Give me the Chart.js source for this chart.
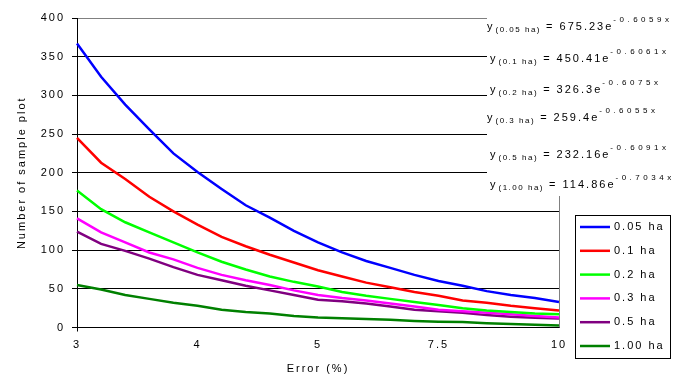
<!DOCTYPE html>
<html>
<head>
<meta charset="utf-8">
<title>Number of sample plot vs error</title>
<script src="https://cdn.jsdelivr.net/npm/chart.js@4.4.1/dist/chart.umd.min.js"></script>
<style>
  html, body { margin: 0; padding: 0; background: #fff; }
</style>
</head>
<body>
<canvas id="sampleChart" width="676" height="377"></canvas>
<script>
// Error (%) categories, ticks only shown on a few of them
const errorLabels = ["3", "3.2", "3.4", "3.6", "3.8", "4", "4.2", "4.4", "4.6", "4.8",
                     "5", "5.5", "6", "6.5", "7", "7.5", "8", "8.5", "9", "9.5", "10"];
const shownTicks = ["3", "4", "5", "7.5", "10"];

// Number of sample plots
const plot005 = [367, 324, 288, 256, 225, 201, 179, 158, 142, 125, 110, 97, 86, 77, 68, 60, 54, 47, 42, 38, 33];
const plot01  = [245, 213, 192, 169, 150, 133, 117, 105, 94, 84, 74, 66, 58, 52, 46, 41, 35, 32, 28, 25, 22];
const plot02  = [177, 153, 136, 123, 110, 97, 85, 75, 66, 59, 53, 46, 41, 37, 33, 29, 25, 22, 20, 18, 17];
const plot03  = [141, 123, 110, 97, 88, 77, 68, 61, 55, 48, 42, 38, 35, 31, 27, 23, 21, 19, 17, 15, 13];
const plot05  = [124, 108, 99, 89, 78, 68, 61, 54, 48, 42, 36, 34, 31, 27, 23, 21, 19, 16, 14, 12.5, 11.5];
const plot100 = [55, 49, 42, 37, 32, 28, 23, 20, 18, 15, 13, 12, 11, 10, 8.5, 7.5, 7, 5.5, 4.5, 3.5, 2.5];

const seriesNames = ["0.05 ha", "0.1 ha", "0.2 ha", "0.3 ha", "0.5 ha", "1.00 ha"];
const seriesColors = ["#0000ff", "#ff0000", "#00ff00", "#ff00ff", "#800080", "#008000"];
const seriesData = [plot005, plot01, plot02, plot03, plot05, plot100];

// Trendline equations: subscript, main part, exponent
const eqSubs = ["(0.05 ha)", "(0.1 ha)", "(0.2 ha)", "(0.3 ha)", "(0.5 ha)", "(1.00 ha)"];
const eqMains = [" = 675.23e", " = 450.41e", " = 326.3e", " = 259.4e", " = 232.16e", " = 114.86e"];
const eqSups = ["-0.6059x", "-0.6061x", "-0.6075x", "-0.6055x", "-0.6091x", "-0.7034x"];

const FONT = '"Liberation Sans", Arial, sans-serif';
Chart.defaults.font.family = FONT;
Chart.defaults.font.size = 11;
Chart.defaults.color = "#000";

// Old Excel look: spaced out letters
const spacingPlugin = {
  id: "spacing",
  beforeUpdate(chart) { chart.ctx.letterSpacing = "2px"; },
  beforeRender(chart) { chart.ctx.letterSpacing = "2px"; },
  beforeDraw(chart) { chart.ctx.letterSpacing = "2px"; }
};

function drawEquation(ctx, x, y, i) {
  ctx.fillStyle = "#000";
  ctx.textAlign = "left";
  ctx.textBaseline = "middle";

  ctx.font = "11px " + FONT;
  ctx.letterSpacing = "2px";
  ctx.fillText("y", x, y);
  x += ctx.measureText("y").width + 1;

  ctx.font = "8px " + FONT;
  ctx.letterSpacing = "1.5px";
  ctx.fillText(eqSubs[i], x, y + 3);
  x += ctx.measureText(eqSubs[i]).width;

  ctx.font = "11px " + FONT;
  ctx.letterSpacing = "2px";
  ctx.fillText(eqMains[i], x, y);
  x += ctx.measureText(eqMains[i]).width;

  ctx.font = "8px " + FONT;
  ctx.letterSpacing = "3.5px";
  ctx.fillText(eqSups[i], x, y - 7);
}

const extrasPlugin = {
  id: "extras",
  afterDatasetsDraw(chart) {
    const ctx = chart.ctx;
    const area = chart.chartArea;
    ctx.save();

    // plot area right border
    ctx.strokeStyle = "#808080";
    ctx.lineWidth = 1;
    ctx.beginPath();
    ctx.moveTo(Math.round(area.right) + 0.5, area.top);
    ctx.lineTo(Math.round(area.right) + 0.5, area.bottom);
    ctx.stroke();

    // equation boxes cover the grid on the right
    ctx.fillStyle = "#fff";
    ctx.fillRect(487, 12, 189, 184);
    const eqY = [27, 59, 90, 118, 155, 185];
    const eqX = [487, 490, 490, 487, 490, 490];
    eqY.forEach((y, i) => drawEquation(ctx, eqX[i], y, i));

    // legend box
    ctx.strokeStyle = "#000";
    ctx.lineWidth = 1;
    ctx.strokeRect(575.5, 215.5, 95, 143);
    chart.data.datasets.forEach((ds, i) => {
      const y = 227 + i * 23.8;
      ctx.strokeStyle = ds.borderColor;
      ctx.lineWidth = 2.5;
      ctx.beginPath();
      ctx.moveTo(580, y);
      ctx.lineTo(610, y);
      ctx.stroke();
      ctx.fillStyle = "#000";
      ctx.font = "11px " + FONT;
      ctx.letterSpacing = "2px";
      ctx.textAlign = "left";
      ctx.textBaseline = "middle";
      ctx.fillText(ds.label, 614, y);
    });

    ctx.restore();
    ctx.letterSpacing = "2px";
  }
};

const ctx = document.getElementById("sampleChart").getContext("2d");
new Chart(ctx, {
  type: "line",
  data: {
    labels: errorLabels,
    datasets: seriesData.map((d, i) => ({
      label: seriesNames[i],
      data: d,
      borderColor: seriesColors[i],
      backgroundColor: seriesColors[i],
      borderWidth: 2.5,
      pointRadius: 0,
      tension: 0,
      fill: false
    }))
  },
  options: {
    responsive: false,
    animation: false,
    devicePixelRatio: 1,
    layout: { padding: { top: 18, right: 117, left: 0, bottom: 0 } },
    plugins: {
      legend: { display: false },
      tooltip: { enabled: false }
    },
    scales: {
      x: {
        type: "category",
        offset: false,
        afterFit: s => { s.height = 49.5; },
        border: { color: "#000", width: 1 },
        grid: {
          drawOnChartArea: false,
          tickLength: 4,
          color: c => shownTicks.includes(errorLabels[c.index]) ? "#000" : "rgba(0,0,0,0)"
        },
        ticks: {
          autoSkip: false,
          maxRotation: 0,
          padding: 7,
          callback: (v, i) => shownTicks.includes(errorLabels[i]) ? errorLabels[i] : null
        },
        title: {
          display: true,
          text: "Error (%)",
          padding: { top: 2, bottom: 1 }
        }
      },
      y: {
        min: 0,
        max: 400,
        afterFit: s => { s.width = 77; },
        border: { color: "#000", width: 1 },
        grid: {
          color: c => c.tick && c.tick.value === 400 ? "#808080" : "#000",
          tickColor: "#000",
          tickLength: 5
        },
        ticks: { stepSize: 50, padding: 7 },
        title: {
          display: true,
          text: "Number of sample plot",
          padding: { top: 15, bottom: 0 }
        }
      }
    }
  },
  plugins: [spacingPlugin, extrasPlugin]
});
</script>
</body>
</html>
